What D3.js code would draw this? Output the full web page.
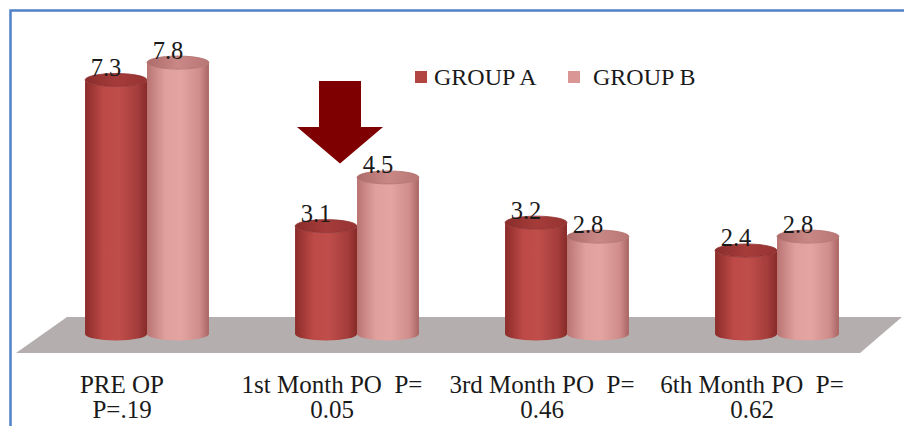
<!DOCTYPE html>
<html>
<head>
<meta charset="utf-8">
<script src="https://cdn.jsdelivr.net/npm/d3@7/dist/d3.min.js"></script>
<style>
  html, body { margin: 0; padding: 0; background: #ffffff; }
  svg { display: block; }
</style>
</head>
<body>
<div id="chart"></div>
<script>
// ---- data ----
const categories = ["PRE OP", "1st Month PO", "3rd Month PO", "6th Month PO"];
const tickLine1 = ["PRE OP", "1st Month PO\u00a0\u00a0P=", "3rd Month PO\u00a0\u00a0P=", "6th Month PO\u00a0\u00a0P="];
const tickLine2 = ["P=.19", "0.05", "0.46", "0.62"];
const seriesNames = ["GROUP A", "GROUP B"];
const groupA = [7.3, 3.1, 3.2, 2.4];
const groupB = [7.8, 4.5, 2.8, 2.8];

const FONT = "Liberation Serif";
const W = 904, H = 426;
const svg = d3.select("#chart").append("svg").attr("width", W).attr("height", H);
const defs = svg.append("defs");

function grad(id, stops) {
  const g = defs.append("linearGradient").attr("id", id)
    .attr("x1", "0%").attr("x2", "100%").attr("y1", "0%").attr("y2", "0%");
  stops.forEach(s => g.append("stop").attr("offset", s[0]).attr("stop-color", s[1]));
}
grad("bodyA", [["0%", "#8c2c2a"], ["30%", "#bd4a47"], ["55%", "#bf4d4a"], ["85%", "#a43d3b"], ["100%", "#872b29"]]);
grad("bodyB", [["0%", "#b97472"], ["30%", "#e0a09e"], ["55%", "#e3a4a2"], ["85%", "#cf8c8a"], ["100%", "#a86563"]]);
grad("topA", [["0%", "#8a2d2b"], ["50%", "#a53c3a"], ["100%", "#963432"]]);
grad("topB", [["0%", "#ad6b69"], ["50%", "#c98886"], ["100%", "#b87674"]]);

// frame
svg.append("path").attr("d", "M10.5,426 V10.5 H904")
  .attr("fill", "none").attr("stroke", "#4f81c8").attr("stroke-width", 2.5);

// scales
const x0 = d3.scaleBand().domain(categories).range([42, 882]).paddingInner(0.41).paddingOuter(0.205);
const x1 = d3.scaleBand().domain(seriesNames).range([0, x0.bandwidth()]).padding(0);
const y = d3.scaleLinear().domain([0, 8]).range([334, 55.6]);

// floor
const base = y(0);
svg.append("path")
  .attr("d", `M16,${base + 19} L67,${base - 17} L902,${base - 17} L860,${base + 19} Z`)
  .attr("fill", "#b4aeae");

// cylinders
const rows = [];
categories.forEach((c, i) => {
  rows.push({ cat: c, s: "GROUP A", v: groupA[i] });
  rows.push({ cat: c, s: "GROUP B", v: groupB[i] });
});
const ry = 6.5;
const bars = svg.append("g").selectAll("g").data(rows).join("g");
bars.each(function(d) {
  const g = d3.select(this);
  const xl = x0(d.cat) + x1(d.s);
  const w = x1.bandwidth();
  const rx = w / 2, xr = xl + w;
  const yt = y(d.v), yb = y(0);
  const isA = d.s === "GROUP A";
  g.append("path")
    .attr("d", `M${xl},${yt} L${xl},${yb} A${rx},${ry} 0 0 0 ${xr},${yb} L${xr},${yt} A${rx},${ry} 0 0 1 ${xl},${yt} Z`)
    .attr("fill", isA ? "url(#bodyA)" : "url(#bodyB)");
  g.append("ellipse")
    .attr("cx", xl + rx).attr("cy", yt).attr("rx", rx).attr("ry", ry)
    .attr("fill", isA ? "url(#topA)" : "url(#topB)")
    .attr("stroke", isA ? "#8e302e" : "#b06e6c").attr("stroke-width", 0.8);
  g.append("text")
    .attr("x", xl + rx - 10).attr("y", yt - 4)
    .attr("text-anchor", "middle")
    .attr("font-family", FONT)
    .attr("font-size", 24.5)
    .attr("fill", "#1a1a1a")
    .text(d3.format(".1f")(d.v));
});

// arrow annotation above the 1st month group
const ac = x0("1st Month PO") + x0.bandwidth() / 2 - 17;
const arrowTip = y(4.5) - 14;
svg.append("path")
  .attr("d", `M${ac - 21},81 L${ac + 21},81 L${ac + 21},127 L${ac + 43},127 L${ac},${arrowTip} L${ac - 43},127 L${ac - 21},127 Z`)
  .attr("fill", "#7f0000");

// legend
const legend = svg.append("g");
const legX = [415, 568];
const legColors = ["#b24442", "#d99694"];
seriesNames.forEach((s, i) => {
  legend.append("rect").attr("x", legX[i]).attr("y", 71).attr("width", 12).attr("height", 12)
    .attr("fill", legColors[i]);
  legend.append("text").attr("x", legX[i] + 19 + (i === 1 ? 6 : 0)).attr("y", 84.5)
    .attr("font-family", FONT)
    .attr("font-size", 24).attr("fill", "#1a1a1a").text(s);
});

// category axis
const axis = d3.axisBottom(x0).tickSize(0).tickPadding(0).tickFormat(() => "");
const ag = svg.append("g").attr("transform", "translate(-25,0)").call(axis);
ag.attr("font-family", FONT);
ag.select(".domain").remove();
ag.selectAll(".tick text").remove();
ag.selectAll(".tick").each(function(d, i) {
  const t = d3.select(this).append("text")
    .attr("text-anchor", "middle")
    .attr("font-family", FONT)
    .attr("font-size", 25)
    .attr("fill", "#1a1a1a");
  t.append("tspan").attr("x", 0).attr("y", 393).text(tickLine1[i]);
  t.append("tspan").attr("x", 0).attr("y", 418).text(tickLine2[i]);
});
</script>
</body>
</html>
